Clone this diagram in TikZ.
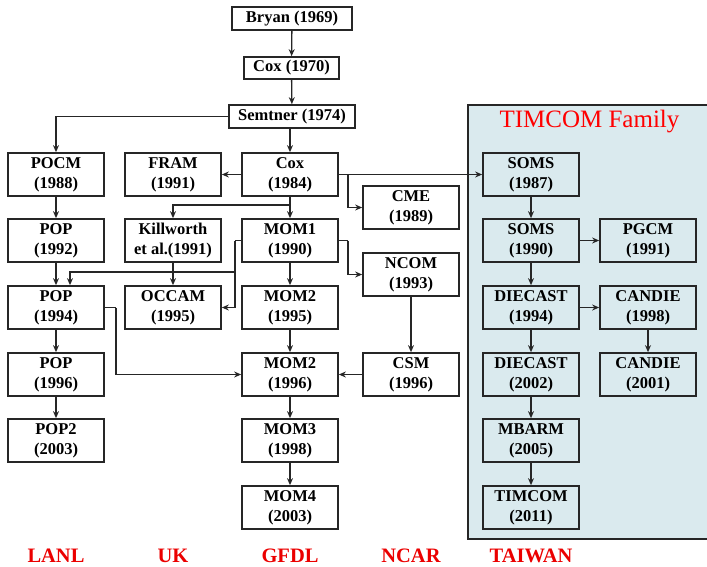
\documentclass[tikz,border=0pt]{standalone}
\usepackage{fontspec}
\setmainfont{Liberation Serif}
\usetikzlibrary{arrows.meta,calc}
\definecolor{panelblue}{RGB}{218,234,238}
\definecolor{labred}{RGB}{235,0,0}
\tikzset{
  mbox/.style={draw=black!85, line width=1.7pt, fill=white, minimum width=96pt, minimum height=43pt,
    inner sep=0pt, align=center, font=\fontsize{16.5}{20}\selectfont\bfseries},
  tbox/.style={mbox, fill=none},
  sbox/.style={mbox, minimum height=23pt},
  arr/.style={draw=black!85, line width=1.3pt, -{Stealth[length=7pt,width=6pt]}},
  ln/.style={draw=black!85, line width=1.3pt},
  grp/.style={text=labred, font=\fontsize{20.5}{24}\selectfont\bfseries, inner sep=1pt},
}
\begin{document}
\begin{tikzpicture}[x=1pt,y=-1pt]
\useasboundingbox (0,0) rectangle (707,566);
% panel
\fill[panelblue] (468,105) rectangle (720,539);
\draw[black!85, line width=1.7pt] (720,105) -- (468,105) -- (468,539) -- (720,539);
\node[text=red, font=\fontsize{25}{30}\selectfont] (title) at (589.5,122) {TIMCOM Family};

% top chain
\node[sbox, minimum width=120pt] (bryan) at (292,18.5) {Bryan (1969)};
\node[sbox, minimum width=95pt, minimum height=22pt] (cox70) at (291.5,68) {Cox (1970)};
\node[sbox, minimum width=126pt] (semt) at (292,116.5) {Semtner (1974)};

% LANL
\node[mbox] (pocm) at (56,174.5) {POCM\\(1988)};
\node[mbox] (pop92) at (56,240.5) {POP\\(1992)};
\node[mbox] (pop94) at (56,307.5) {POP\\(1994)};
\node[mbox] (pop96) at (56,374.5) {POP\\(1996)};
\node[mbox] (pop2) at (56,440.5) {POP2\\(2003)};
% UK
\node[mbox] (fram) at (173,174.5) {FRAM\\(1991)};
\node[mbox] (kill) at (173,240.5) {Killworth\\et al.(1991)};
\node[mbox] (occam) at (173,307.5) {OCCAM\\(1995)};
% GFDL
\node[mbox] (cox84) at (290,174.5) {Cox\\(1984)};
\node[mbox] (mom1) at (290,240.5) {MOM1\\(1990)};
\node[mbox] (mom2a) at (290,307.5) {MOM2\\(1995)};
\node[mbox] (mom2b) at (290,374.5) {MOM2\\(1996)};
\node[mbox] (mom3) at (290,440.5) {MOM3\\(1998)};
\node[mbox] (mom4) at (290,507.5) {MOM4\\(2003)};
% NCAR
\node[mbox] (cme) at (411,207.5) {CME\\(1989)};
\node[mbox] (ncom) at (411,274.5) {NCOM\\(1993)};
\node[mbox] (csm) at (411,374.5) {CSM\\(1996)};
% TAIWAN
\node[tbox] (soms87) at (531,174.5) {SOMS\\(1987)};
\node[tbox] (soms90) at (531,240.5) {SOMS\\(1990)};
\node[tbox] (die94) at (531,307.5) {DIECAST\\(1994)};
\node[tbox] (die02) at (531,374.5) {DIECAST\\(2002)};
\node[tbox] (mbarm) at (531,440.5) {MBARM\\(2005)};
\node[tbox] (timcom) at (531,507.5) {TIMCOM\\(2011)};
\node[tbox] (pgcm) at (648,240.5) {PGCM\\(1991)};
\node[tbox] (can98) at (648,307.5) {CANDIE\\(1998)};
\node[tbox] (can01) at (648,374.5) {CANDIE\\(2001)};

% group labels
\node[grp] (lanl) at (56,555.5) {LANL};
\node[grp] (uk) at (173,555.5) {UK};
\node[grp] (gfdl) at (290,555.5) {GFDL};
\node[grp] (ncar) at (411,555.5) {NCAR};
\node[grp] (taiwan) at (531,555.5) {TAIWAN};

% junction coordinates
\coordinate (j1) at (348,174.5);
\coordinate (j2) at (290,205);
\coordinate (j3) at (235,240.5);
\coordinate (j4) at (235,272);
\coordinate (j5) at (348,240.5);
\coordinate (j6) at (116,307.5);

% connectors
\draw[arr] (bryan) -- (cox70);
\draw[arr] (cox70) -- (semt);
\draw[arr] (semt.west) -| (pocm.north);
\draw[arr] (semt.south -| cox84.north) -- (cox84.north);
\draw[arr] (cox84.west) -- (fram.east);
\draw[arr] (cox84.east) -- (soms87.west);
\draw[arr] (j1) |- (cme.west);
\draw[arr] (cox84) -- (mom1);
\draw[arr] (j2) -| (kill.north);
\draw[arr] (pocm) -- (pop92);
\draw[arr] (pop92) -- (pop94);
\draw[arr] (kill) -- (occam);
\draw[ln] (mom1.west) -- (j3);
\draw[arr] (j3) |- (occam.east);
\draw[arr] (j4) -| ([xshift=14pt]pop94.north);
\draw[arr] (mom1) -- (mom2a);
\draw[ln] (mom1.east) -- (j5);
\draw[arr] (j5) |- (ncom.west);
\draw[arr] (ncom) -- (csm);
\draw[arr] (csm.west) -- (mom2b.east);
\draw[ln] (pop94.east) -- (j6);
\draw[arr] (j6) |- (mom2b.west);
\draw[arr] (mom2a) -- (mom2b);
\draw[arr] (mom2b) -- (mom3);
\draw[arr] (mom3) -- (mom4);
\draw[arr] (pop94) -- (pop96);
\draw[arr] (pop96) -- (pop2);
\draw[arr] (soms87) -- (soms90);
\draw[arr] (soms90) -- (die94);
\draw[arr] (die94) -- (die02);
\draw[arr] (die02) -- (mbarm);
\draw[arr] (mbarm) -- (timcom);
\draw[arr] (soms90) -- (pgcm);
\draw[arr] (die94) -- (can98);
\draw[arr] (can98) -- (can01);
\end{tikzpicture}
\end{document}
